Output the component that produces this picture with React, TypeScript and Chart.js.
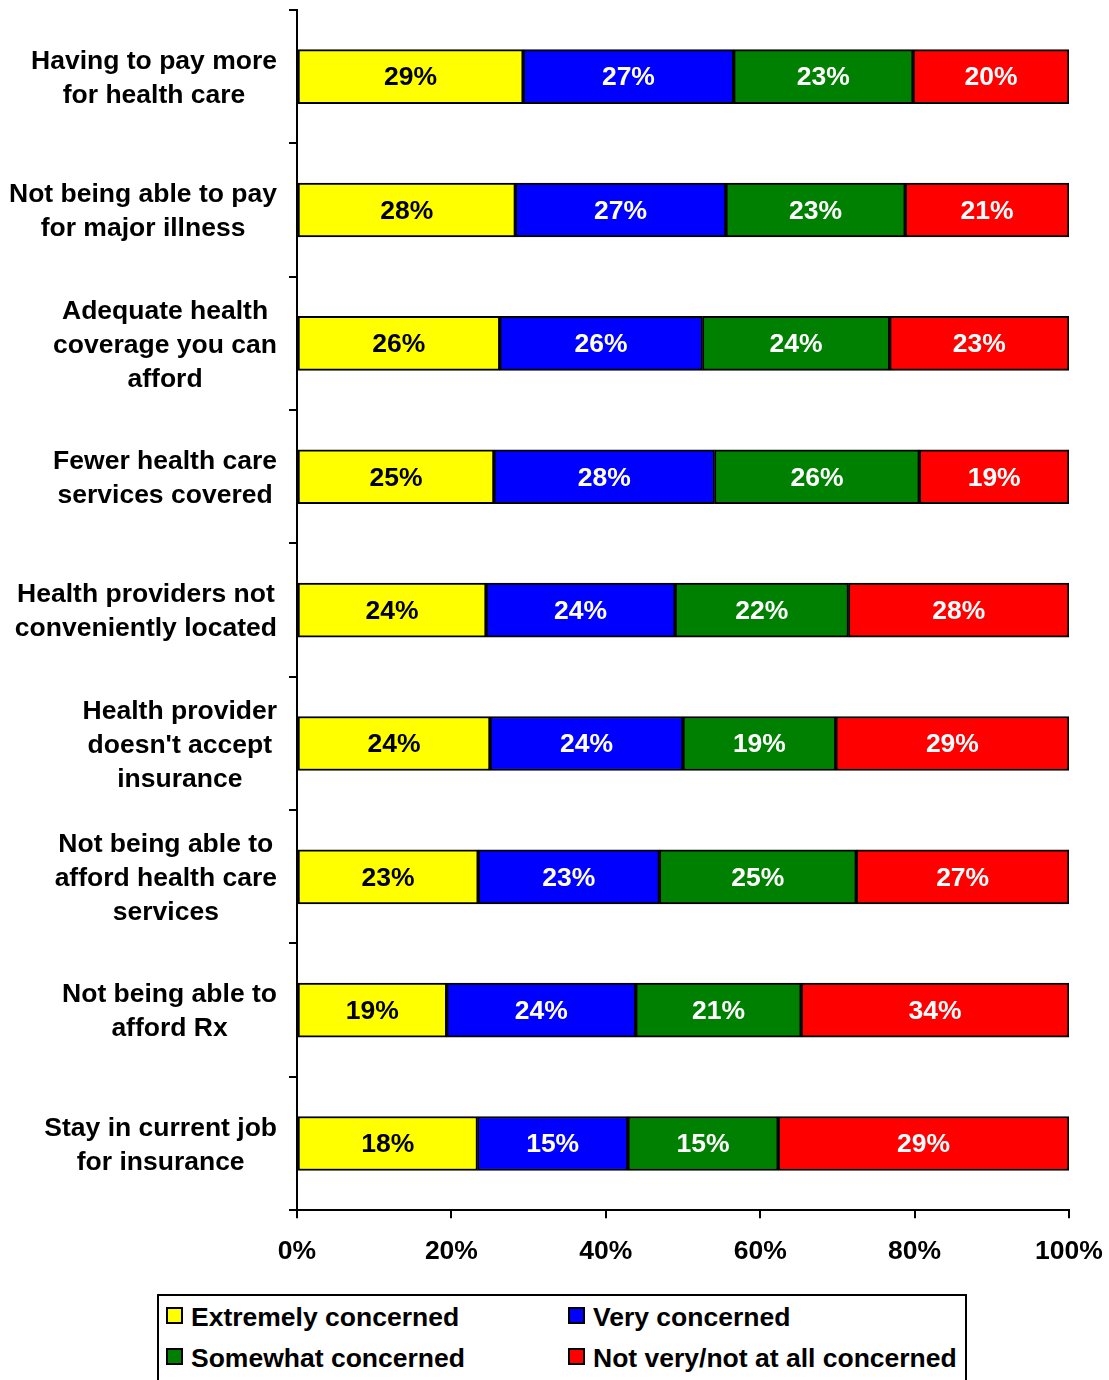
import React, { useEffect, useRef } from 'react';
import { Chart, registerables } from 'chart.js';

Chart.register(...registerables);

const FONT_FAMILY = '"Liberation Sans", Arial, Helvetica, sans-serif';

// Category labels (multi-line)
const categories: string[][] = [
  ['Having to pay more', 'for health care'],
  ['Not being able to pay', 'for major illness'],
  ['Adequate health', 'coverage you can', 'afford'],
  ['Fewer health care', 'services covered'],
  ['Health providers not', 'conveniently located'],
  ['Health provider', "doesn't accept", 'insurance'],
  ['Not being able to', 'afford health care', 'services'],
  ['Not being able to', 'afford Rx'],
  ['Stay in current job', 'for insurance'],
];

// Series names
const seriesNames = [
  'Extremely concerned',
  'Very concerned',
  'Somewhat concerned',
  'Not very/not at all concerned',
];

// Series values (percent, as labelled)
const extremely = [29, 28, 26, 25, 24, 24, 23, 19, 18];
const very = [27, 27, 26, 28, 24, 24, 23, 24, 15];
const somewhat = [23, 23, 24, 26, 22, 19, 25, 21, 15];
const notVery = [20, 21, 23, 19, 28, 29, 27, 34, 29];

const seriesColors = ['#FFFF00', '#0000FF', '#008000', '#FF0000'];
const valueLabelColors = ['#000000', '#FFFFFF', '#FFFFFF', '#FFFFFF'];

// X axis ticks
const xTicks = [0, 20, 40, 60, 80, 100];

const rawSeries = [extremely, very, somewhat, notVery];

// 100% stacked: each row normalised to its total
const rowTotals = categories.map((_, i) => rawSeries.reduce((s, arr) => s + arr[i], 0));
const shareSeries = rawSeries.map((arr) => arr.map((v, i) => (v / rowTotals[i]) * 100));

const LABEL_FONT = `bold 26.5px ${FONT_FAMILY}`;

const customLabels = {
  id: 'customLabels',
  afterDatasetsDraw(chart: any) {
    const ctx = chart.ctx;
    ctx.save();
    ctx.font = LABEL_FONT;
    ctx.textAlign = 'center';
    ctx.textBaseline = 'middle';
    chart.data.datasets.forEach((_ds: any, di: number) => {
      const meta = chart.getDatasetMeta(di);
      meta.data.forEach((bar: any, i: number) => {
        const { x, y, base } = bar.getProps(['x', 'y', 'base'], true);
        ctx.fillStyle = valueLabelColors[di];
        ctx.fillText(rawSeries[di][i] + '%', (x + base) / 2, y + 1.5);
      });
    });
    ctx.restore();
  },
  afterDraw(chart: any) {
    const ctx = chart.ctx;
    const yScale = chart.scales.y;
    const rightEdge = chart.chartArea.left - 20;
    const lineH = 34;
    ctx.save();
    ctx.font = LABEL_FONT;
    ctx.fillStyle = '#000000';
    ctx.textAlign = 'center';
    ctx.textBaseline = 'middle';
    categories.forEach((lines, i) => {
      const cy = yScale.getPixelForValue(i);
      const widest = Math.max(...lines.map((l) => ctx.measureText(l).width));
      const cx = rightEdge - widest / 2;
      lines.forEach((line, li) => {
        ctx.fillText(line, cx, cy + (li - (lines.length - 1) / 2) * lineH + 2);
      });
    });
    ctx.restore();
  },
};

export default function App() {
  const canvasRef = useRef<HTMLCanvasElement | null>(null);

  useEffect(() => {
    if (!canvasRef.current) return;
    Chart.defaults.font.family = FONT_FAMILY;
    const chart = new Chart(canvasRef.current, {
      type: 'bar',
      data: {
        labels: categories.map((c) => c.join(' ')),
        datasets: seriesNames.map((name, di) => ({
          label: name,
          data: shareSeries[di],
          backgroundColor: seriesColors[di],
          borderColor: '#000000',
          borderWidth: 2,
          borderSkipped: false,
          barThickness: 54,
        })),
      },
      options: {
        indexAxis: 'y',
        animation: false,
        responsive: true,
        maintainAspectRatio: false,
        events: [],
        layout: { padding: { left: 289, right: 40, top: 10, bottom: 4 } },
        plugins: {
          legend: { display: false },
          tooltip: { enabled: false },
        },
        scales: {
          x: {
            type: 'linear',
            stacked: true,
            min: 0,
            max: 100,
            afterBuildTicks: (axis: any) => {
              axis.ticks = xTicks.map((v) => ({ value: v }));
            },
            afterFit: (axis: any) => {
              axis.paddingLeft = 0;
              axis.paddingRight = 0;
            },
            ticks: {
              callback: (v: any) => v + '%',
              color: '#000000',
              font: { size: 26.5, weight: 'bold' },
              padding: 18,
              maxRotation: 0,
            },
            grid: {
              drawOnChartArea: false,
              drawTicks: true,
              tickLength: 8,
              color: '#000000',
              lineWidth: 2,
            },
            border: { display: true, color: '#000000', width: 2 },
          },
          y: {
            type: 'category',
            stacked: true,
            offset: true,
            ticks: { display: false },
            grid: {
              drawOnChartArea: false,
              drawTicks: true,
              tickLength: 8,
              color: '#000000',
              lineWidth: 2,
              offset: true,
            },
            border: { display: true, color: '#000000', width: 2 },
          },
        },
      },
      plugins: [customLabels],
    });
    return () => chart.destroy();
  }, []);

  const legendItems = [
    { name: seriesNames[0], color: seriesColors[0], left: 7, top: 0 },
    { name: seriesNames[1], color: seriesColors[1], left: 409, top: 0 },
    { name: seriesNames[2], color: seriesColors[2], left: 7, top: 41 },
    { name: seriesNames[3], color: seriesColors[3], left: 409, top: 41 },
  ];

  return (
    <div
      style={{
        position: 'absolute',
        left: 0,
        top: 0,
        width: 1109,
        height: 1380,
        overflow: 'hidden',
        background: '#ffffff',
        fontFamily: FONT_FAMILY,
      }}
    >
      <div style={{ position: 'absolute', left: 0, top: 0, width: 1109, height: 1290 }}>
        <canvas ref={canvasRef} />
      </div>
      <div
        style={{
          position: 'absolute',
          left: 157,
          top: 1294,
          width: 810,
          height: 110,
          border: '2px solid #000000',
          boxSizing: 'border-box',
          background: '#ffffff',
        }}
      >
        {legendItems.map((it) => (
          <div key={it.name} style={{ position: 'absolute', left: it.left, top: it.top }}>
            <div
              style={{
                position: 'absolute',
                left: 0,
                top: 11,
                width: 17,
                height: 17,
                border: '2px solid #000000',
                boxSizing: 'border-box',
                background: it.color,
              }}
            />
            <span
              style={{
                position: 'absolute',
                left: 25,
                top: 6,
                whiteSpace: 'nowrap',
                fontWeight: 'bold',
                fontSize: 26.5,
                lineHeight: '30px',
                color: '#000000',
              }}
            >
              {it.name}
            </span>
          </div>
        ))}
      </div>
    </div>
  );
}
